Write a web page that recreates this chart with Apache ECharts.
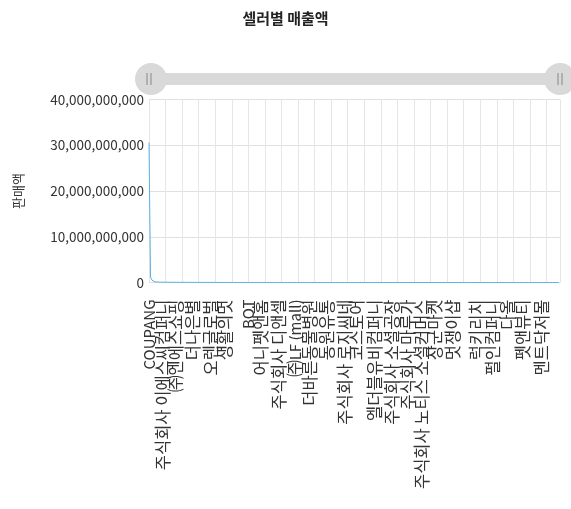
<!DOCTYPE html>
<html><head><meta charset="utf-8">
<script src="https://cdn.jsdelivr.net/npm/echarts@6/dist/echarts.min.js"></script>
<style>html,body{margin:0;padding:0;background:#fff}#c{width:571px;height:509px}</style>
</head><body><div id="c"></div>
<script>
const titleText = '셀러별 매출액';
const yName = '판매액';
// sellers whose names are legible on the axis, with their position in the ranking
const namedSellers = [
  [0,'COUPANG'],[9,'주식회사 이에스씨컴퍼니'],[18,'㈜엔에스쇼핑'],[29,'더나은별'],[41,'오렌글로벌'],[50,'생활의멋'],
  [66,'BOT'],[74,'어니펫앤홈'],[86,'주식회사 디앤셀'],[97,'㈜LF (mall)'],[107,'더바른동물병원'],[118,'동원유통'],
  [130,'주식회사 로지씨네'],[138,'코스토어'],[150,'엘더블유비컴퍼니'],[161,'주식회사 소셜공장'],[172,'주식회사 마루가'],
  [181,'주식회사 노티스 소셜커머스'],[190,'장군마켓'],[202,'멋쟁이샵'],[218,'럭키리치'],[228,'펄인컴퍼니'],
  [238,'다올'],[248,'펫앤뷰티'],[261,'멘트닥저몰']
];
const sellerCount = 274;
// sales (KRW, millions) in ranking order
const salesMillions = [
 30600,1200,500,260,140,110,95,85,78,72,66,61,57,53,50,47,45,43,41,39,
 37,36,35,34,33,32,31,30,29,28,27,26,25,24,23,22,21,21,20,20,
 19,19,18,18,17,17,16,16,15,15,15,14,14,14,13,13,13,12,12,12,
 11,11,11,11,10,10,10,10,9,9,9,9,9,8,8,8,8,8,7,7,
 7,7,7,7,6,6,6,6,6,6,6,5,5,5,5,5,5,5,5,4,
 4,4,4,4,4,4,4,4,4,3,3,3,3,3,3,3,3,3,3,3,
 3,3,2,2,2,2,2,2,2,2,2,2,2,2,2,2,2,2,2,2,
 2,2,2,2,2,1,1,1,1,1,1,1,1,1,1,1,1,1,1,1,
 1,1,1,1,1,1,1,1,1,1,1,1,1,1,1,1,1,1,1,1,
 1,1,1,1,1,1,1,1,1,1,1,1,1,1,1,1,1,0.5,0.5,0.5,
 0.5,0.5,0.5,0.5,0.5,0.5,0.5,0.5,0.5,0.5,0.5,0.5,0.5,0.5,0.5,0.5,0.5,0.5,0.5,0.5,
 0.5,0.5,0.5,0.5,0.5,0.5,0.5,0.5,0.5,0.5,0.5,0.5,0.5,0.5,0.3,0.3,0.3,0.3,0.3,0.3,
 0.3,0.3,0.3,0.3,0.3,0.3,0.3,0.3,0.3,0.3,0.3,0.3,0.2,0.2,0.2,0.2,0.2,0.2,0.2,0.2,
 0.2,0.2,0.1,0.1,0.1,0.1,0.1,0.1,0.1,0.1,0.1,0.1,0.1,0.1
];
const sellers = new Array(sellerCount).fill('');
namedSellers.forEach(([i,n])=>{sellers[i]=n;});
const sales = salesMillions.map(v=>v*1e6);

const chart = echarts.init(document.getElementById('c'));
const fam = '"Noto Sans CJK KR", "Noto Sans", sans-serif';
const handleColor = '#d9d9d9';
const grip = (x)=>({type:'group',x:x,y:73,z:1000,zlevel:1,silent:true,children:[
  {type:'rect',shape:{x:0,y:0,width:1,height:12},style:{fill:'#888'},z:1000},
  {type:'rect',shape:{x:4,y:0,width:1,height:12},style:{fill:'#888'},z:1000}]});
// latin runs are set a little smaller than hangul, as in the original font
const labelFmt = v => v ? v.replace(/[\x20-\x7e]+/g, m => m.trim() ? '{a|' + m + '}' : m) : '';
chart.setOption({
  textStyle:{fontFamily:fam},
  title:{text:titleText,left:'center',top:6,textStyle:{fontSize:15,fontWeight:'bold',color:'#222',fontFamily:fam}},
  grid:{left:149,right:11,top:99.5,bottom:226.5,containLabel:false},
  dataZoom:[{type:'slider',xAxisIndex:0,start:0,end:100,top:73,height:12,left:149,right:11,
    showDetail:false,showDataShadow:false,brushSelect:false,moveHandleSize:0,
    backgroundColor:'#ddd',fillerColor:'#d9d9d9',borderColor:'transparent',
    handleIcon:'path://M0,-10A10,10 0 1,1 0,10A10,10 0 1,1 0,-10Z',
    handleSize:'267%',handleStyle:{color:handleColor,borderWidth:0}}],
  graphic:{elements:[grip(146.5),grip(557.5)]},
  xAxis:{type:'category',data:sellers,boundaryGap:false,
    axisLine:{show:false},axisTick:{show:false},
    splitLine:{show:true,interval:10,lineStyle:{color:'#e6e6e6'}},
    axisLabel:{interval:0,rotate:90,fontSize:16.5,color:'#333',margin:17,fontFamily:fam,
      formatter:labelFmt,rich:{a:{fontSize:15,color:'#333',fontFamily:fam}}}},
  yAxis:{type:'value',min:0,max:40000000000,interval:10000000000,name:yName,nameLocation:'middle',nameGap:124,
    nameTextStyle:{fontSize:13,color:'#333',fontFamily:fam},
    axisLabel:{fontSize:13.5,color:'#333',margin:5,formatter:v=>v.toLocaleString('en-US'),fontFamily:fam},
    splitLine:{lineStyle:{color:'#e0e0e0'}}},
  series:[{type:'line',data:sales,showSymbol:false,lineStyle:{width:1,color:'#5ab0e6'},itemStyle:{color:'#5ab0e6'}}]
});
</script></body></html>
